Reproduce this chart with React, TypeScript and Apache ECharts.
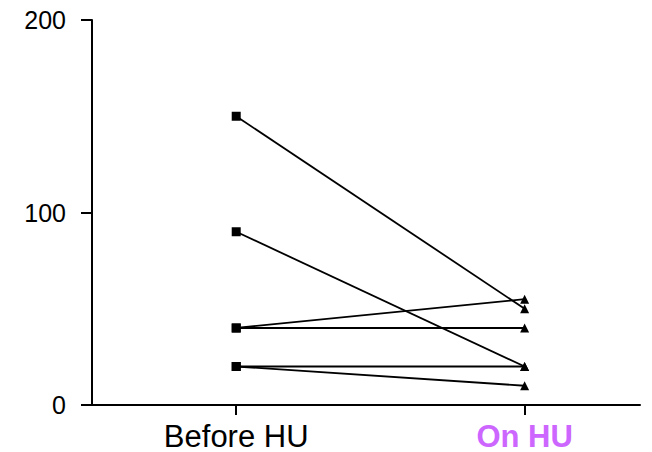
import React, { useEffect, useRef } from "react";
import * as echarts from "echarts";

const categories = ["Before HU", "On HU"];
const beforeValues = [150, 90, 40, 40, 20, 20];
const onValues = [50, 20, 55, 40, 20, 10];
const yTicks = [0, 100, 200];

export default function App() {
  const ref = useRef<HTMLDivElement>(null);
  useEffect(() => {
    const chart = echarts.init(ref.current!, null, { renderer: "svg" });
    const series = beforeValues.map((b, i) => ({
      type: "line",
      data: [
        { value: [0, b], symbol: "rect" },
        { value: [1, onValues[i]], symbol: "triangle" },
      ],
      symbolSize: 9,
      lineStyle: { color: "#000", width: 1.8 },
      itemStyle: { color: "#000" },
      emphasis: { disabled: true },
      z: 3,
    }));
    chart.setOption({
      animation: false,
      grid: { left: 92, right: 12, top: 20, bottom: 47, containLabel: false },
      xAxis: {
        type: "value",
        min: -0.5,
        max: 1.4,
        splitLine: { show: false },
        axisLine: { show: true, onZero: false, lineStyle: { color: "#000", width: 2 } },
        axisTick: {
          show: true,
          customValues: [0, 1],
          length: 10,
          lineStyle: { color: "#000", width: 2 },
        },
        axisLabel: {
          customValues: [0, 1],
          margin: 18,
          formatter: (v: number) =>
            v === 0 ? "{a|" + categories[0] + "}" : "{b|" + categories[1] + "}",
          rich: {
            a: { fontSize: 31, lineHeight: 26, color: "#000", fontFamily: "Liberation Sans, Arial" },
            b: {
              fontSize: 31,
              lineHeight: 26,
              color: "#CC66FF",
              fontWeight: "bold",
              fontFamily: "Liberation Sans, Arial",
            },
          },
        },
      },
      yAxis: {
        type: "value",
        min: 0,
        max: 200,
        interval: 100,
        splitLine: { show: false },
        axisLine: { show: true, onZero: false, lineStyle: { color: "#000", width: 2 } },
        axisTick: {
          show: true,
          length: 11,
          lineStyle: { color: "#000", width: 2 },
        },
        axisLabel: {
          margin: 26,
          fontSize: 25,
          color: "#000",
          fontFamily: "Liberation Sans, Arial",
          formatter: (v: number) => (yTicks.includes(v) ? String(v) : ""),
        },
      },
      series,
    });
    return () => chart.dispose();
  }, []);
  return <div ref={ref} style={{ width: 652, height: 452, position: "absolute", left: 0, top: 0 }} />;
}
